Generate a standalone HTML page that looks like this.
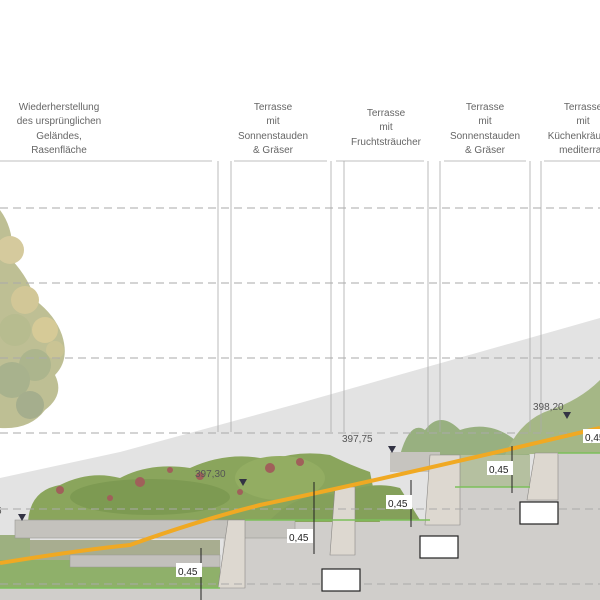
<!DOCTYPE html>
<html><head><meta charset="utf-8"><style>
html,body{margin:0;padding:0;background:#fff;}
svg{display:block;font-family:"Liberation Sans",sans-serif;}
</style></head><body>
<svg width="600" height="600" viewBox="0 0 600 600" xmlns="http://www.w3.org/2000/svg">
<polygon points="0,478 120,452 300,403 600,318 600,600 0,600" fill="#e3e3e3"/>
<polygon points="0,588 220,588 225,520 300,520 440,520 455,487 530,487 560,453 600,453 600,600 0,600" fill="#d0cecb"/>
<!-- tree -->
<g opacity="0.7">
<path d="M0,210 Q15,230 12,260 Q30,280 35,300 Q55,315 62,335 Q70,360 55,375 Q65,395 45,410 Q30,430 0,428 Z" fill="#a3a468"/>
<circle cx="10" cy="250" r="14" fill="#c4b474"/>
<circle cx="25" cy="300" r="14" fill="#c0b06c"/>
<circle cx="45" cy="330" r="13" fill="#c6b46c"/>
<circle cx="15" cy="330" r="16" fill="#9aa060"/>
<circle cx="35" cy="365" r="16" fill="#8a965e"/>
<circle cx="12" cy="380" r="18" fill="#84925e"/>
<circle cx="30" cy="405" r="14" fill="#7f8c5e"/>
<circle cx="55" cy="350" r="9" fill="#b4ac68"/>
</g>
<!-- plantings -->
<g>
<path d="M28,522 Q30,490 60,485 Q90,470 120,478 Q150,462 190,468 Q230,450 270,460 Q300,450 330,455 Q350,465 370,472 L380,522 Z" fill="#8aa55c"/>
<ellipse cx="150" cy="497" rx="80" ry="18" fill="#7d9a52"/>
<ellipse cx="280" cy="478" rx="45" ry="22" fill="#93ad62"/>
<g fill="#a0605a">
<circle cx="140" cy="482" r="5"/><circle cx="270" cy="468" r="5"/><circle cx="60" cy="490" r="4"/><circle cx="200" cy="476" r="4"/>
<circle cx="110" cy="498" r="3"/><circle cx="170" cy="470" r="3"/><circle cx="300" cy="462" r="4"/><circle cx="240" cy="492" r="3"/>
</g>
<path d="M270,520 Q300,490 340,495 Q370,480 400,488 L420,520 Z" fill="#84a05a"/>
<path d="M400,455 Q410,420 425,430 Q440,410 460,430 Q490,420 515,440 L530,455 Z" fill="#98b080"/>
<path d="M505,455 Q520,420 550,410 Q580,400 600,380 L600,453 L560,453 Z" fill="#a5b786"/>
<rect x="440" y="455" width="90" height="32" fill="#b5c0a0"/>
<rect x="0" y="560" width="220" height="28" fill="#8fb06a"/>
<rect x="0" y="535" width="30" height="25" fill="#9db080"/>
</g>
<rect x="15" y="520" width="280" height="18" fill="#c4c2bd" stroke="#9a9894" stroke-width="0.6"/>
<rect x="30" y="540" width="190" height="20" fill="#a8ad90"/>
<rect x="70" y="555" width="150" height="12" fill="#c2c0bc" stroke="#9a9894" stroke-width="0.5"/>
<rect x="390" y="452" width="50" height="20" fill="#c6c4bf"/>
<g fill="#ddd8d0" stroke="#8a8885" stroke-width="0.6">
<polygon points="228,520 245,520 245,588 218,588"/>
<polygon points="335,487 355,487 355,555 330,555"/>
<polygon points="430,455 460,455 460,525 425,525"/>
<polygon points="535,453 558,453 558,500 527,500"/>
</g>
<g stroke="#7cbf5a" stroke-width="1.5">
<line x1="0" y1="588" x2="220" y2="588"/>
<line x1="245" y1="520" x2="430" y2="520"/>
<line x1="455" y1="487" x2="530" y2="487"/>
<line x1="558" y1="453" x2="600" y2="453"/>
</g>
<g stroke="#aaa" stroke-width="0.9" stroke-dasharray="8,5" fill="none">
<line x1="0" y1="208" x2="600" y2="208"/>
<line x1="0" y1="283" x2="600" y2="283"/>
<line x1="0" y1="358" x2="600" y2="358"/>
<line x1="0" y1="433" x2="600" y2="433"/>
<line x1="0" y1="509" x2="600" y2="509"/>
<line x1="0" y1="584" x2="600" y2="584"/>
</g>
<g fill="#fff" stroke="#222" stroke-width="1.2">
<rect x="322" y="569" width="38" height="22"/>
<rect x="420" y="536" width="38" height="22"/>
<rect x="520" y="502" width="38" height="22"/>
</g>
<path d="M0,563 Q80,550 130,545 Q200,520 260,505 Q380,480 600,428" stroke="#f0a923" stroke-width="4" fill="none"/>
<g stroke="#aaa" stroke-width="0.8" fill="none">
<line x1="0" y1="161" x2="212" y2="161"/>
<line x1="234" y1="161" x2="327" y2="161"/>
<line x1="336" y1="161" x2="424" y2="161"/>
<line x1="444" y1="161" x2="526" y2="161"/>
<line x1="544" y1="161" x2="600" y2="161"/>
<line x1="218" y1="161" x2="218" y2="432"/>
<line x1="231" y1="161" x2="231" y2="432"/>
<line x1="331" y1="161" x2="331" y2="432"/>
<line x1="344" y1="161" x2="344" y2="432"/>
<line x1="428" y1="161" x2="428" y2="432"/>
<line x1="440" y1="161" x2="440" y2="432"/>
<line x1="530" y1="161" x2="530" y2="432"/>
<line x1="541" y1="161" x2="541" y2="432"/>
</g>
<g font-size="10" fill="#666" text-anchor="middle">
<text x="59" y="110">Wiederherstellung</text><text x="59" y="124">des ursprünglichen</text><text x="59" y="139">Geländes,</text><text x="59" y="153">Rasenfläche</text>
<text x="273" y="110">Terrasse</text><text x="273" y="124">mit</text><text x="273" y="139">Sonnenstauden</text><text x="273" y="153">&amp; Gräser</text>
<text x="386" y="116">Terrasse</text><text x="386" y="130">mit</text><text x="386" y="145">Fruchtsträucher</text>
<text x="485" y="110">Terrasse</text><text x="485" y="124">mit</text><text x="485" y="139">Sonnenstauden</text><text x="485" y="153">&amp; Gräser</text>
<text x="583" y="110">Terrasse</text><text x="583" y="124">mit</text><text x="583" y="139">Küchenkräutern</text><text x="583" y="153">mediterran</text>
</g>
<g font-size="10" fill="#555">
<text x="195" y="477">397,30</text>
<text x="342" y="442">397,75</text>
<text x="533" y="410">398,20</text>
<text x="-4" y="514">5</text>
</g>
<g fill="#334">
<polygon points="239,479 247,479 243,486"/>
<polygon points="388,446 396,446 392,453"/>
<polygon points="563,412 571,412 567,419"/>
<polygon points="18,514 26,514 22,521"/>
</g>
<g stroke="#222" stroke-width="1">
<line x1="201" y1="548" x2="201" y2="600"/>
<line x1="314" y1="482" x2="314" y2="554"/>
<line x1="411" y1="480" x2="411" y2="527"/>
<line x1="512" y1="446" x2="512" y2="493"/>
</g>
<g font-size="10" fill="#222">
<rect x="176" y="563" width="26" height="14" fill="#fff"/><text x="178" y="575">0,45</text>
<rect x="287" y="529" width="26" height="14" fill="#fff"/><text x="289" y="541">0,45</text>
<rect x="386" y="495" width="26" height="14" fill="#fff"/><text x="388" y="507">0,45</text>
<rect x="487" y="461" width="26" height="14" fill="#fff"/><text x="489" y="473">0,45</text>
<rect x="583" y="429" width="26" height="14" fill="#fff"/><text x="585" y="441">0,45</text>
</g>
</svg>
</body></html>
